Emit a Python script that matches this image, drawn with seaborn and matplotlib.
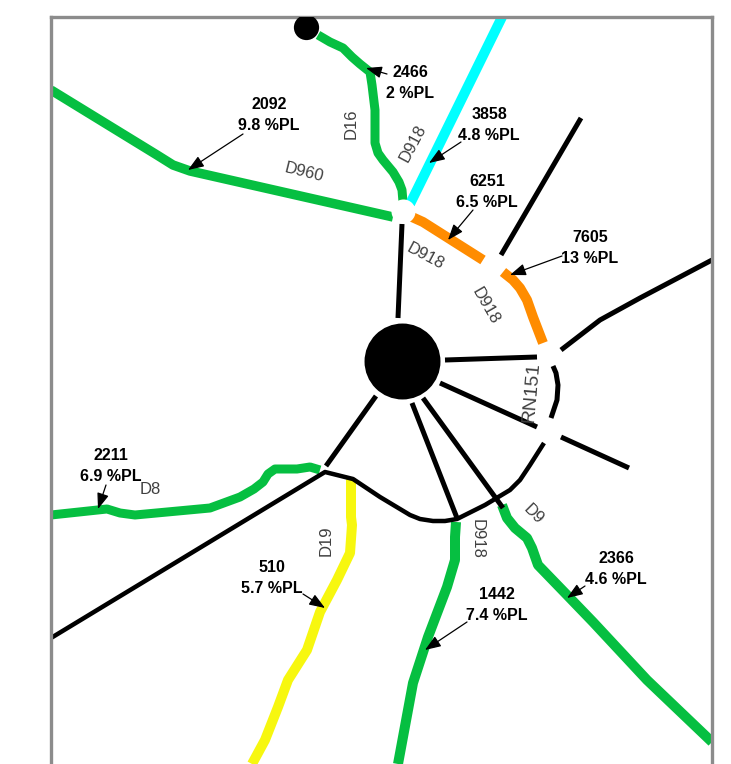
import matplotlib
matplotlib.use("Agg")
import matplotlib.pyplot as plt
import seaborn as sns

sns.set_theme(style="white")
plt.rcParams['font.family'] = ['Liberation Sans', 'DejaVu Sans']

# road paths
d16_x = [318, 330, 343, 352, 360, 370, 372, 375, 375, 378, 383, 393, 399, 402, 403]
d16_y = [35, 42, 48, 57, 64, 72, 85, 110, 143, 153, 160, 172, 182, 190, 202]
d960_x = [51, 157, 173, 190, 393]
d960_y = [90, 155, 165, 171, 217]
d918_north_x = [502, 410]
d918_north_y = [17, 204]
d918_mid_x = [412, 423, 483]
d918_mid_y = [217, 222, 260]
d918_east_x = [503, 513, 520, 527, 533, 543]
d918_east_y = [272, 280, 288, 300, 317, 343]
d8_x = [51, 107, 120, 135, 210, 240, 254, 263, 268, 275, 297, 310, 320]
d8_y = [515, 509, 513, 515, 508, 497, 489, 482, 474, 469, 469, 467, 470]
d19_x = [351, 351, 352, 350, 337, 320, 307, 288, 278, 265, 252]
d19_y = [478, 517, 525, 553, 580, 612, 650, 680, 707, 740, 764]
d918_south_x = [456, 455, 455, 447, 428, 413, 398]
d918_south_y = [522, 537, 560, 587, 637, 683, 764]
d9_x = [502, 507, 515, 527, 532, 538, 567, 593, 647, 712]
d9_y = [505, 518, 528, 538, 548, 565, 595, 622, 680, 742]

# unloaded roads (black)
spoke_n_x = [402, 398]
spoke_n_y = [224, 318]
spoke_ne_x = [581, 501]
spoke_ne_y = [118, 255]
spoke_e_x = [445, 537]
spoke_e_y = [360, 357]
spoke_se_x = [440, 537]
spoke_se_y = [383, 427]
spoke_far_x = [561, 629]
spoke_far_y = [437, 468]
rn_ne_x = [561, 600, 640, 712]
rn_ne_y = [350, 320, 298, 260]
arc_x = [553, 556, 558, 557, 551]
arc_y = [366, 373, 385, 400, 418]
ring_x = [544, 530, 520, 510, 485, 457, 445, 433, 420, 410, 400, 380, 353, 325, 51]
ring_y = [443, 465, 480, 490, 505, 519, 521, 521, 519, 515, 509, 497, 479, 472, 638]
spoke_sw_x = [376, 326]
spoke_sw_y = [396, 466]
spoke_s_x = [412, 457]
spoke_s_y = [403, 518]
spoke_d9_x = [423, 503]
spoke_d9_y = [398, 508]

green = "#06bf41"
roads = [
    (d16_x, d16_y, green, 9), (d960_x, d960_y, green, 9.5),
    (d918_north_x, d918_north_y, "#00ffff", 10),
    (d918_mid_x, d918_mid_y, "#ff8c00", 10), (d918_east_x, d918_east_y, "#ff8c00", 10),
    (d8_x, d8_y, green, 9), (d19_x, d19_y, "#f7f70f", 10),
    (d918_south_x, d918_south_y, green, 10), (d9_x, d9_y, green, 10),
    (spoke_n_x, spoke_n_y, "black", 5), (spoke_ne_x, spoke_ne_y, "black", 5),
    (spoke_e_x, spoke_e_y, "black", 5), (spoke_se_x, spoke_se_y, "black", 5),
    (spoke_far_x, spoke_far_y, "black", 5), (rn_ne_x, rn_ne_y, "black", 5),
    (arc_x, arc_y, "black", 5), (ring_x, ring_y, "black", 4.5),
    (spoke_sw_x, spoke_sw_y, "black", 5), (spoke_s_x, spoke_s_y, "black", 5),
    (spoke_d9_x, spoke_d9_y, "black", 5),
]

# traffic labels: count, share, text position, arrow start, arrow tip
counts = ["2466", "3858", "6251", "7605", "2092", "2211", "510", "1442", "2366"]
shares = ["2 %PL", "4.8 %PL", "6.5 %PL", "13 %PL", "9.8 %PL", "6.9 %PL", "5.7 %PL", "7.4 %PL", "4.6 %PL"]
label_x = [410, 489, 487, 590, 269, 111, 272, 497, 616]
label_y = [83, 125, 192, 248, 115, 466, 578, 605, 569]
arrow_from = [(387, 74), (461, 142), (473, 210), (562, 256), (243, 134), (106, 485), (303, 594), (467, 622), (585, 586)]
arrow_to = [(366, 68), (429, 163), (448, 240), (510, 275), (188, 170), (98, 509), (325, 608), (425, 650), (567, 598)]

# road names
names = ["D16", "D918", "D960", "D918", "D918", "RN151", "D8", "D19", "D918", "D9"]
name_x = [351, 413, 304, 425, 485, 532, 150, 326, 477, 533]
name_y = [124, 143, 172, 256, 306, 392, 490, 541, 539, 514]
name_rot = [90, 62, -14, -28, -60, 85, 0, 90, -90, -45]
name_size = [12, 12, 12, 12, 12, 14, 12, 12, 12, 12]

fig = plt.figure(figsize=(7.31, 7.64), dpi=100)
ax = fig.add_axes([51 / 731, 0, 661 / 731, 747 / 764])

for x, y, color, width in roads:
    sns.lineplot(x=x, y=y, ax=ax, color=color, linewidth=width * 0.72, sort=False,
                 estimator=None, solid_joinstyle="round", solid_capstyle="butt", legend=False)

# towns and the white junction
sns.scatterplot(x=[402], y=[361], ax=ax, color="black", s=2990, linewidth=0, zorder=5)
sns.scatterplot(x=[306], y=[27], ax=ax, color="black", s=330, linewidth=0, zorder=5)
sns.scatterplot(x=[403], y=[211], ax=ax, color="white", s=300, linewidth=0, zorder=5)

ax.set_xlim(51, 712)
ax.set_ylim(764, 17)
ax.set_xticks([])
ax.set_yticks([])
ax.set_xlabel("")
ax.set_ylabel("")

for side in ["left", "right", "top"]:
    ax.spines[side].set_color("#8c8c8c")
    ax.spines[side].set_linewidth(2.4)
ax.spines["bottom"].set_visible(False)

for count, share, x, y, start, tip in zip(counts, shares, label_x, label_y, arrow_from, arrow_to):
    ax.text(x, y, count + "\n" + share, ha="center", va="center", fontsize=11.5,
            fontweight="bold", color="black", linespacing=1.5, zorder=7)
    ax.annotate("", xy=tip, xytext=start, zorder=7,
                arrowprops=dict(arrowstyle="-|>,head_length=0.8,head_width=0.3", color="black",
                                lw=0.9, shrinkA=0, shrinkB=0))

for name, x, y, rot, size in zip(names, name_x, name_y, name_rot, name_size):
    ax.text(x, y, name, rotation=rot, rotation_mode="anchor", ha="center", va="center",
            fontsize=size, color="#404040", zorder=6)

fig.savefig("out.png", dpi=100)
